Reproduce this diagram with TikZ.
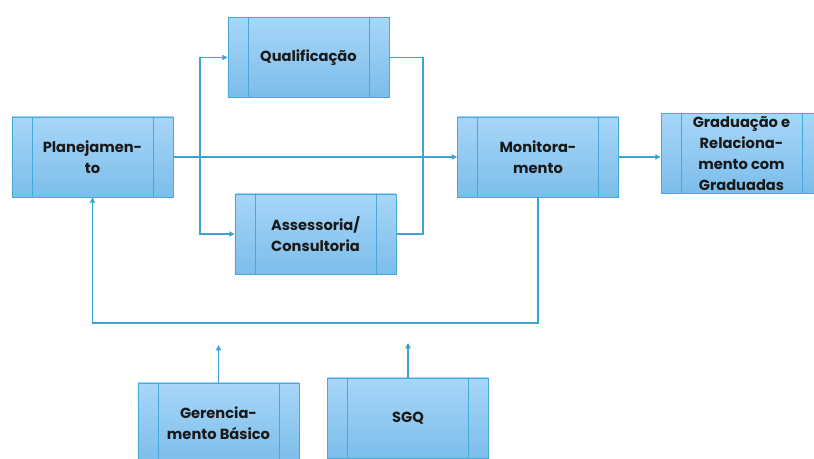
\documentclass[tikz,border=0pt]{standalone}
\usepackage{fontspec}
\setmainfont{Poppins}[BoldFont={* Bold}]
\usetikzlibrary{arrows.meta,calc}
\definecolor{boxedge}{HTML}{45A9D9}
\definecolor{boxlight}{HTML}{A8D6F8}
\definecolor{boxdark}{HTML}{7BBDEA}
\definecolor{conn}{HTML}{3DA4D2}
\tikzset{
  procbox/.style={draw=boxedge, line width=0.8pt, minimum width=4.83cm, minimum height=2.4cm,
    inner sep=0pt, align=center, font=\fontsize{12.5}{18}\selectfont\bfseries, text=black!90,
    shading=axis, left color=boxlight, right color=boxdark, shading angle=0,
    path picture={
      \draw[boxedge, line width=0.7pt]
        ([xshift=0.6cm]path picture bounding box.north west) -- ([xshift=0.6cm]path picture bounding box.south west)
        ([xshift=-0.6cm]path picture bounding box.north east) -- ([xshift=-0.6cm]path picture bounding box.south east);
    }},
  conline/.style={draw=conn, line width=0.9pt},
  arr/.style={conline, -{Triangle[length=4.5pt,width=4.5pt]}}
}
\begin{document}
\begin{tikzpicture}[x=0.03cm,y=-0.03cm]
\useasboundingbox (0,0) rectangle (814,459);
\node[procbox] (plan) at (92.5,157) {Planejamen-\\to};
\node[procbox] (qual) at (308.5,57.5) {Qualificação};
\node[procbox] (asse) at (315.5,234) {Assessoria/\\Consultoria};
\node[procbox] (moni) at (538,157) {Monitora-\\mento};
\node[procbox] (grad) at (741.5,153.5) {Graduação e\\Relaciona-\\mento com\\Graduadas};
\node[procbox] (gere) at (218.5,423) {Gerencia-\\mento Básico};
\node[procbox] (sgq) at (408,418) {SGQ};
\coordinate (split) at (200,157);
\coordinate (qturn) at (423,57.5);
\coordinate (fb) at (538,323);
\coordinate (gtip) at (218.5,345);
\coordinate (stip) at (408,343);
\draw[arr] (plan.east) -- (moni.west);
\draw[arr] (split) |- (qual.west);
\draw[arr] (split) |- (asse.west);
\draw[conline] (qual.east) -- (qturn) |- (asse.east);
\draw[arr] (moni.east) -- (moni.east -| grad.west);
\draw[arr] (moni.south) -- (fb) -| (plan.south);
\draw[arr] (gere.north) -- (gtip);
\draw[arr] (sgq.north) -- (stip);
\end{tikzpicture}
\end{document}
